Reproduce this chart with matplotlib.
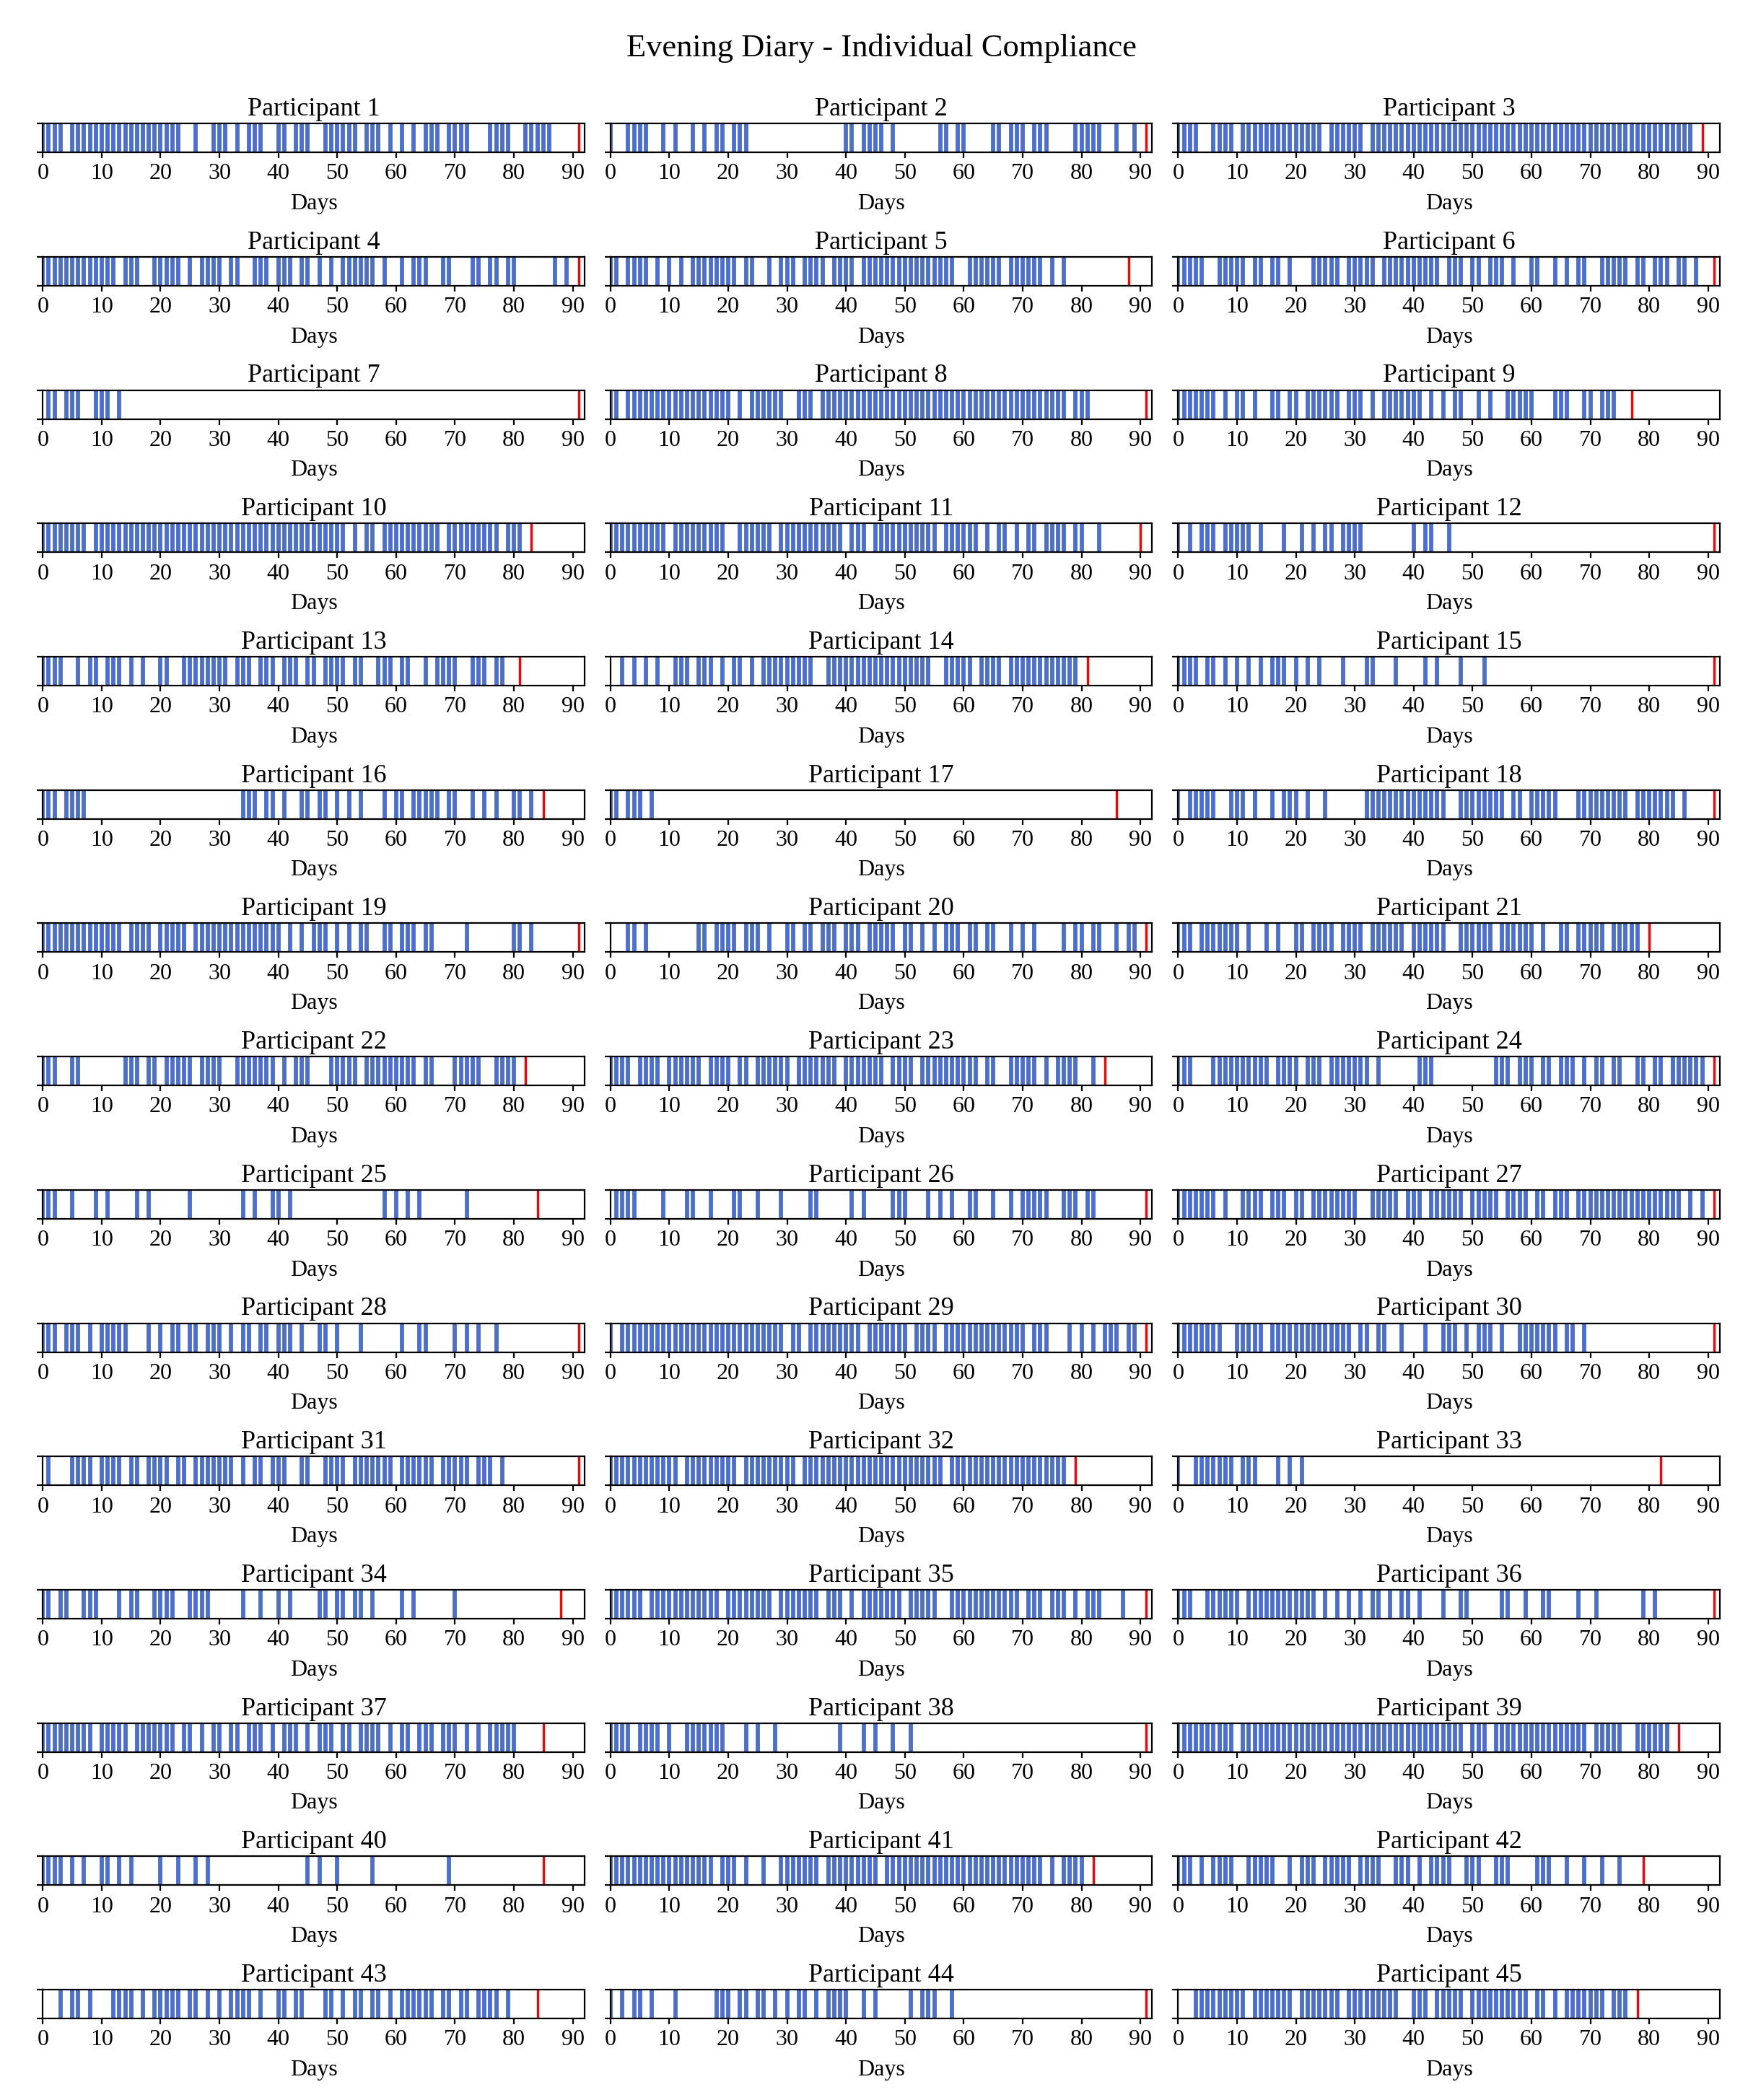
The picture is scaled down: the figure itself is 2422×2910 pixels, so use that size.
import matplotlib.pyplot as plt

plt.rcParams['font.family'] = ['Liberation Serif', 'DejaVu Serif']

fig_title = "Evening Diary - Individual Compliance"
x_ticks = [0, 10, 20, 30, 40, 50, 60, 70, 80, 90]

# days on which each participant filled in the evening diary
p01 = [0, 1, 2, 3, 5, 6, 7, 8, 9, 10, 11, 12, 13, 14, 15, 16, 17, 18, 19, 20, 21, 22, 23, 26, 29, 30, 31, 33, 35, 36, 37, 40, 41, 43, 44, 45, 48, 49, 50, 51, 52, 53, 55, 56, 57, 59, 61, 63, 65, 66, 67, 69, 70, 71, 72, 76, 77, 78, 79, 82, 83, 84, 85, 86]
p02 = [0, 3, 4, 5, 6, 9, 11, 14, 16, 18, 19, 21, 22, 23, 40, 41, 43, 44, 45, 46, 48, 56, 57, 59, 60, 65, 66, 68, 69, 70, 72, 73, 74, 79, 80, 81, 82, 83, 86, 89]
p03 = [0, 1, 2, 3, 6, 7, 8, 9, 11, 12, 13, 14, 15, 16, 17, 18, 19, 20, 21, 22, 23, 24, 26, 27, 28, 29, 30, 31, 33, 34, 35, 36, 37, 38, 39, 40, 41, 42, 43, 44, 45, 46, 47, 48, 49, 50, 51, 52, 53, 54, 55, 56, 57, 58, 59, 60, 61, 62, 63, 64, 65, 66, 67, 68, 69, 70, 71, 72, 73, 74, 75, 76, 77, 78, 79, 80, 81, 82, 83, 84, 85, 86, 87]
p04 = [0, 1, 2, 3, 4, 5, 6, 7, 8, 9, 10, 11, 12, 14, 15, 16, 19, 20, 21, 22, 23, 25, 27, 28, 29, 30, 32, 33, 36, 37, 38, 40, 41, 42, 44, 45, 47, 49, 51, 52, 53, 54, 55, 56, 58, 61, 63, 64, 65, 68, 69, 73, 74, 76, 77, 79, 80, 87, 89]
p05 = [0, 1, 3, 4, 5, 6, 8, 10, 12, 14, 15, 16, 17, 18, 19, 20, 21, 23, 24, 27, 29, 30, 31, 33, 34, 35, 36, 38, 39, 40, 41, 43, 44, 45, 46, 47, 48, 49, 50, 51, 52, 53, 54, 55, 56, 57, 58, 61, 62, 63, 64, 65, 66, 68, 69, 70, 71, 72, 73, 75, 77]
p06 = [0, 1, 2, 3, 4, 7, 8, 9, 10, 11, 13, 14, 16, 17, 19, 23, 24, 25, 26, 27, 29, 30, 31, 32, 33, 35, 36, 37, 38, 39, 40, 41, 42, 43, 44, 46, 47, 48, 50, 51, 53, 54, 55, 57, 60, 61, 64, 66, 68, 69, 72, 73, 74, 75, 76, 78, 79, 81, 82, 83, 85, 86, 88]
p07 = [1, 2, 4, 5, 6, 9, 10, 11, 13]
p08 = [0, 1, 3, 4, 5, 6, 7, 8, 9, 10, 11, 12, 13, 14, 15, 16, 17, 18, 19, 20, 22, 24, 25, 26, 27, 28, 29, 32, 33, 34, 36, 37, 38, 39, 40, 41, 42, 43, 44, 45, 46, 47, 48, 49, 50, 51, 52, 53, 54, 55, 56, 57, 58, 59, 60, 61, 62, 63, 64, 65, 66, 67, 68, 69, 70, 71, 72, 73, 74, 75, 76, 77, 79, 80, 81]
p09 = [0, 1, 2, 3, 4, 5, 6, 8, 10, 11, 13, 16, 17, 19, 20, 22, 23, 24, 25, 26, 27, 29, 30, 31, 33, 35, 36, 37, 38, 39, 40, 41, 43, 45, 47, 48, 51, 53, 56, 57, 58, 59, 60, 64, 65, 66, 69, 70, 72, 73, 74]
p10 = [0, 1, 2, 3, 4, 5, 6, 7, 9, 10, 11, 12, 13, 14, 15, 16, 17, 18, 19, 20, 21, 22, 23, 24, 25, 26, 27, 28, 29, 30, 31, 32, 33, 34, 35, 36, 37, 38, 39, 40, 41, 42, 43, 44, 45, 46, 47, 48, 49, 50, 51, 53, 55, 56, 58, 59, 60, 61, 62, 63, 64, 65, 66, 67, 69, 70, 71, 72, 73, 74, 75, 76, 77, 79, 80, 81]
p11 = [0, 1, 2, 3, 4, 5, 6, 7, 8, 9, 11, 12, 13, 14, 15, 16, 17, 18, 19, 22, 23, 24, 25, 26, 27, 29, 30, 31, 32, 33, 34, 35, 36, 37, 38, 39, 41, 42, 43, 45, 46, 47, 48, 49, 50, 51, 52, 53, 54, 55, 57, 58, 59, 60, 61, 62, 64, 66, 67, 69, 71, 72, 74, 75, 76, 77, 79, 80, 83]
p12 = [0, 2, 4, 5, 6, 8, 9, 10, 11, 12, 14, 18, 21, 23, 25, 26, 28, 29, 30, 31, 40, 42, 43, 46]
p13 = [0, 1, 2, 3, 6, 8, 9, 11, 12, 13, 15, 17, 20, 21, 24, 25, 26, 27, 28, 29, 30, 31, 33, 34, 35, 37, 38, 39, 41, 42, 43, 45, 46, 48, 49, 50, 51, 53, 54, 57, 58, 59, 61, 62, 65, 67, 68, 69, 70, 73, 74, 75, 77, 78]
p14 = [2, 4, 6, 8, 11, 12, 13, 15, 16, 17, 19, 21, 22, 24, 26, 27, 28, 29, 30, 31, 32, 33, 34, 37, 38, 39, 40, 41, 42, 43, 44, 45, 46, 47, 48, 49, 50, 51, 52, 53, 54, 57, 58, 59, 60, 61, 63, 64, 65, 66, 68, 69, 70, 71, 72, 73, 74, 75, 76, 77, 78, 79]
p15 = [0, 1, 2, 3, 5, 6, 8, 10, 12, 14, 16, 17, 18, 20, 22, 24, 28, 32, 33, 37, 42, 44, 48, 52]
p16 = [0, 1, 2, 4, 5, 6, 7, 34, 35, 36, 38, 39, 41, 44, 45, 47, 48, 50, 52, 54, 58, 60, 61, 63, 64, 65, 66, 67, 69, 70, 73, 75, 77, 80, 81, 83]
p17 = [0, 1, 3, 4, 5, 7]
p18 = [0, 2, 3, 4, 5, 6, 9, 10, 11, 13, 16, 18, 19, 20, 22, 25, 32, 33, 34, 35, 36, 37, 38, 39, 40, 41, 42, 43, 44, 45, 48, 49, 50, 51, 52, 53, 54, 55, 57, 58, 60, 61, 62, 63, 64, 68, 69, 70, 71, 72, 73, 74, 75, 76, 78, 79, 80, 81, 82, 83, 84, 86]
p19 = [0, 1, 2, 3, 4, 5, 6, 7, 8, 9, 10, 11, 12, 13, 15, 16, 17, 18, 20, 21, 22, 23, 24, 26, 27, 28, 29, 30, 31, 32, 33, 34, 35, 36, 37, 38, 39, 40, 42, 44, 46, 47, 48, 50, 52, 54, 55, 58, 59, 61, 62, 63, 65, 66, 72, 80, 81, 83]
p20 = [3, 4, 6, 15, 16, 18, 19, 20, 21, 23, 24, 25, 27, 30, 31, 33, 34, 36, 37, 38, 40, 41, 42, 44, 45, 46, 47, 48, 50, 51, 53, 55, 57, 58, 59, 61, 62, 64, 65, 68, 70, 72, 77, 79, 80, 82, 83, 86, 88, 89]
p21 = [0, 1, 2, 4, 5, 6, 7, 8, 9, 10, 12, 15, 17, 20, 21, 23, 24, 25, 26, 28, 29, 30, 31, 33, 34, 35, 36, 37, 38, 40, 41, 42, 43, 44, 45, 48, 49, 50, 51, 52, 53, 55, 56, 57, 58, 59, 60, 62, 65, 66, 68, 69, 70, 71, 72, 74, 75, 76, 77, 78]
p22 = [0, 1, 2, 5, 6, 14, 15, 16, 18, 19, 21, 22, 23, 24, 25, 27, 28, 29, 30, 33, 34, 35, 36, 37, 38, 39, 41, 43, 44, 45, 49, 50, 51, 52, 53, 55, 56, 57, 58, 59, 60, 61, 62, 63, 65, 66, 70, 71, 72, 73, 74, 77, 78, 79, 80]
p23 = [0, 1, 2, 3, 5, 6, 7, 8, 10, 11, 12, 13, 14, 15, 17, 18, 19, 20, 22, 23, 25, 26, 27, 28, 29, 30, 32, 33, 34, 35, 36, 37, 38, 40, 41, 42, 43, 44, 45, 46, 48, 49, 50, 51, 53, 54, 55, 56, 57, 58, 59, 60, 61, 62, 64, 65, 68, 69, 70, 71, 72, 74, 76, 77, 78, 79, 82]
p24 = [0, 1, 2, 6, 7, 8, 9, 10, 11, 12, 13, 14, 15, 17, 18, 19, 20, 22, 23, 24, 26, 27, 28, 29, 30, 31, 32, 34, 41, 42, 43, 54, 55, 56, 58, 59, 60, 62, 63, 65, 66, 67, 69, 71, 72, 74, 75, 78, 79, 81, 82, 84, 85, 86, 87, 88, 89]
p25 = [0, 1, 2, 5, 9, 11, 16, 18, 25, 34, 36, 39, 40, 42, 58, 60, 62, 64, 72]
p26 = [1, 2, 3, 4, 9, 13, 14, 17, 21, 22, 25, 29, 34, 35, 41, 43, 48, 49, 50, 54, 56, 58, 61, 62, 65, 68, 70, 71, 72, 73, 74, 77, 78, 79, 81, 82]
p27 = [0, 1, 2, 3, 4, 5, 6, 8, 11, 12, 13, 14, 16, 17, 18, 20, 21, 23, 24, 25, 26, 27, 28, 29, 30, 33, 34, 35, 36, 37, 39, 40, 41, 43, 44, 45, 46, 47, 48, 50, 51, 52, 53, 54, 56, 57, 58, 59, 61, 62, 64, 65, 66, 68, 69, 70, 71, 72, 73, 74, 75, 76, 77, 78, 79, 80, 81, 82, 83, 84, 85, 87, 89]
p28 = [0, 1, 2, 4, 5, 6, 8, 10, 11, 12, 13, 14, 18, 20, 22, 23, 25, 26, 28, 29, 30, 32, 34, 35, 37, 38, 40, 41, 42, 44, 47, 48, 50, 54, 61, 64, 65, 70, 72, 74, 77]
p29 = [0, 2, 3, 4, 5, 6, 7, 8, 9, 10, 11, 12, 13, 14, 15, 16, 17, 18, 19, 20, 21, 22, 23, 24, 25, 26, 27, 28, 29, 31, 32, 34, 35, 36, 37, 38, 39, 40, 41, 42, 44, 45, 46, 47, 48, 49, 50, 52, 53, 54, 55, 57, 58, 59, 60, 61, 62, 63, 64, 65, 66, 67, 68, 69, 70, 72, 73, 74, 78, 80, 82, 84, 85, 86, 88, 89]
p30 = [0, 1, 2, 3, 4, 5, 6, 7, 10, 11, 12, 13, 14, 16, 17, 18, 19, 20, 21, 22, 23, 24, 25, 26, 27, 28, 29, 31, 32, 34, 35, 38, 42, 45, 46, 47, 49, 51, 52, 53, 55, 58, 59, 60, 61, 62, 63, 64, 66, 67, 69]
p31 = [1, 5, 6, 7, 8, 10, 11, 12, 13, 15, 16, 18, 19, 20, 21, 23, 24, 26, 27, 28, 29, 30, 31, 32, 34, 36, 37, 39, 40, 41, 44, 45, 48, 49, 50, 51, 53, 54, 55, 56, 57, 58, 59, 61, 62, 63, 64, 65, 66, 68, 69, 70, 71, 72, 74, 75, 76, 78]
p32 = [0, 1, 2, 3, 4, 5, 6, 7, 8, 9, 10, 11, 13, 14, 15, 16, 17, 18, 19, 20, 21, 23, 24, 25, 26, 27, 28, 29, 30, 31, 33, 34, 35, 36, 37, 38, 39, 40, 41, 42, 43, 44, 45, 46, 47, 48, 49, 50, 51, 52, 53, 54, 55, 56, 58, 59, 60, 61, 62, 63, 64, 65, 66, 67, 68, 69, 70, 71, 72, 73, 74, 75, 76, 77]
p33 = [0, 3, 4, 5, 6, 7, 8, 9, 11, 12, 13, 17, 19, 21]
p34 = [0, 1, 3, 4, 7, 8, 9, 13, 15, 16, 19, 20, 21, 22, 25, 26, 27, 28, 34, 37, 40, 42, 47, 48, 50, 51, 53, 54, 56, 61, 63, 70]
p35 = [0, 1, 2, 3, 4, 5, 7, 8, 9, 10, 11, 12, 13, 14, 15, 16, 17, 18, 20, 21, 22, 23, 24, 25, 26, 27, 29, 30, 31, 32, 33, 34, 35, 37, 38, 39, 41, 43, 44, 45, 46, 47, 48, 49, 51, 52, 53, 54, 55, 58, 59, 60, 61, 62, 63, 64, 65, 66, 67, 68, 69, 71, 72, 73, 75, 76, 77, 79, 81, 82, 83, 87]
p36 = [0, 1, 2, 5, 6, 7, 8, 9, 10, 12, 13, 14, 15, 16, 17, 18, 19, 20, 21, 22, 23, 25, 27, 29, 31, 33, 34, 36, 38, 39, 41, 45, 48, 49, 55, 56, 59, 62, 63, 68, 71, 79, 81]
p37 = [0, 1, 2, 3, 4, 5, 6, 7, 8, 10, 11, 12, 13, 14, 16, 17, 18, 19, 20, 21, 22, 24, 25, 27, 29, 30, 32, 33, 35, 36, 37, 39, 41, 42, 43, 45, 47, 48, 49, 51, 52, 54, 55, 56, 57, 59, 61, 62, 64, 65, 66, 68, 69, 70, 72, 74, 76, 77, 78, 79, 80]
p38 = [0, 1, 2, 3, 5, 6, 7, 8, 10, 13, 14, 15, 16, 17, 18, 19, 23, 25, 28, 39, 43, 45, 48, 51]
p39 = [0, 1, 2, 3, 4, 5, 6, 7, 8, 9, 11, 12, 13, 14, 15, 16, 17, 18, 19, 20, 21, 22, 23, 24, 25, 26, 27, 28, 29, 30, 31, 32, 33, 34, 35, 36, 37, 38, 39, 40, 41, 42, 43, 44, 45, 46, 47, 48, 50, 51, 52, 54, 55, 56, 57, 58, 59, 60, 61, 62, 63, 64, 65, 66, 67, 68, 69, 71, 72, 73, 74, 75, 78, 79, 80, 81, 82, 83]
p40 = [0, 1, 2, 3, 5, 7, 10, 11, 13, 15, 20, 23, 26, 28, 45, 47, 50, 56, 69]
p41 = [0, 1, 2, 3, 4, 5, 6, 7, 8, 9, 10, 11, 12, 13, 14, 15, 16, 17, 19, 20, 21, 23, 26, 29, 30, 31, 32, 33, 34, 35, 37, 38, 39, 40, 41, 42, 43, 44, 45, 47, 48, 49, 50, 51, 52, 53, 54, 55, 56, 57, 58, 59, 60, 61, 62, 63, 64, 65, 66, 67, 68, 69, 70, 71, 72, 73, 75, 77, 78, 79, 80]
p42 = [0, 1, 2, 4, 6, 7, 8, 9, 12, 13, 14, 15, 16, 19, 21, 22, 23, 25, 26, 27, 28, 29, 31, 32, 33, 34, 37, 38, 39, 41, 43, 44, 45, 46, 49, 50, 51, 54, 55, 56, 61, 62, 63, 66, 69, 72, 75]
p43 = [3, 5, 6, 8, 12, 13, 14, 15, 17, 19, 20, 21, 22, 23, 25, 26, 28, 30, 32, 33, 34, 35, 37, 40, 41, 43, 44, 48, 49, 51, 53, 54, 56, 57, 59, 61, 62, 63, 64, 65, 66, 68, 69, 71, 72, 74, 75, 76, 77, 79]
p44 = [0, 2, 4, 5, 7, 11, 18, 19, 20, 22, 23, 25, 26, 28, 30, 32, 33, 35, 37, 38, 39, 40, 43, 45, 51, 53, 54, 55, 58]
p45 = [3, 4, 5, 6, 7, 8, 9, 10, 11, 13, 14, 15, 16, 17, 18, 19, 21, 22, 23, 24, 25, 26, 27, 29, 30, 31, 32, 33, 34, 35, 36, 37, 40, 41, 42, 44, 45, 46, 47, 48, 50, 51, 52, 53, 54, 55, 56, 57, 58, 59, 61, 62, 64, 66, 67, 68, 69, 70, 71, 72, 74, 75, 76]

# last study day of each participant (red marker)
end_days = [91, 91, 89, 91, 88, 91, 91, 91, 77, 83,
            90, 91, 81, 81, 91, 85, 86, 91, 91, 91,
            80, 82, 84, 91, 84, 91, 91, 91, 91, 91,
            91, 79, 82, 88, 91, 91, 85, 91, 85, 85,
            82, 79, 84, 91, 78]

diary_days = [p01, p02, p03, p04, p05, p06, p07, p08, p09, p10,
              p11, p12, p13, p14, p15, p16, p17, p18, p19, p20,
              p21, p22, p23, p24, p25, p26, p27, p28, p29, p30,
              p31, p32, p33, p34, p35, p36, p37, p38, p39, p40,
              p41, p42, p43, p44, p45]

left, right = 0.0245, 0.9839

fig, axes = plt.subplots(15, 3, figsize=(12.11, 14.55), dpi=200)
fig.subplots_adjust(left=left, right=right, top=0.9412, bottom=0.0388,
                    wspace=0.048, hspace=3.62)

for i, ax in enumerate(axes.flat):
    for d in diary_days[i]:
        ax.axvline(d, color='#4a6fd1', linewidth=2.1)
    ax.axvline(end_days[i], color='red', linewidth=1.2)
    ax.set_xlim(0, 92)
    ax.set_ylim(0, 1)
    ax.set_yticks([0, 1])
    ax.set_yticklabels([])
    ax.set_xticks(x_ticks)
    ax.tick_params(labelsize=11.5, length=3, pad=2.5)
    ax.set_title(f"Participant {i + 1}", fontsize=13, pad=4)
    ax.set_xlabel("Days", fontsize=11.5, labelpad=4.5)

fig.suptitle(fig_title, fontsize=16, x=(left + right) / 2, y=0.984)
fig.savefig("out.png", dpi=200)
